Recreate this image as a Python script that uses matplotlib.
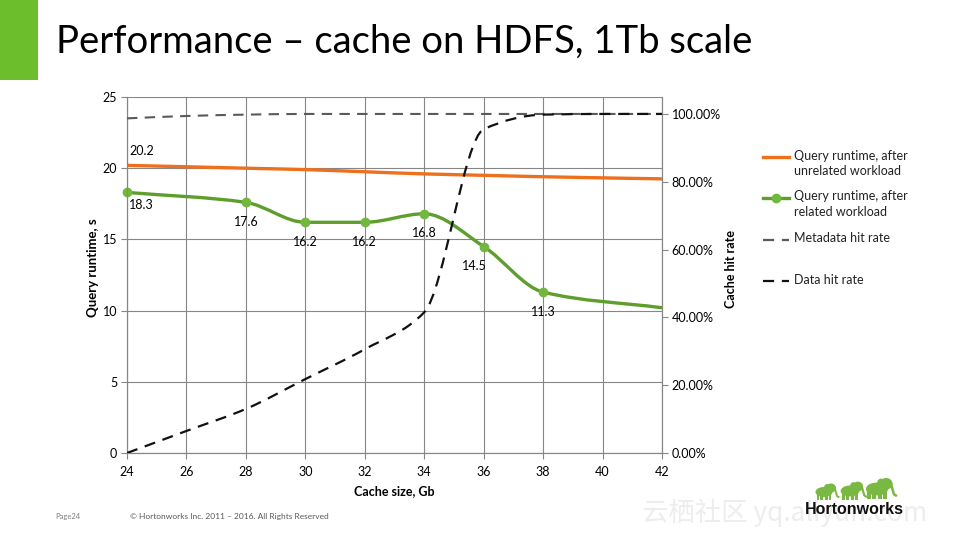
import numpy as np
import matplotlib.pyplot as plt
from matplotlib.path import Path
from matplotlib.patches import PathPatch, Rectangle, Ellipse
from matplotlib.ticker import PercentFormatter, MultipleLocator

plt.rcParams['font.family'] = ['Lato', 'DejaVu Sans']

# data
cache_gb = [24, 28, 30, 32, 34, 36, 38, 42]
runtime_unrelated = [20.2, 20.0, 19.9, 19.75, 19.6, 19.5, 19.4, 19.25]
runtime_related = [18.3, 17.6, 16.2, 16.2, 16.8, 14.5, 11.3, 10.2]
labelled_related = 7  # first 7 points carry markers and labels

hit_gb = [24, 26, 28, 30, 32, 34, 36, 38, 40, 42]
metadata_hit = [0.987, 0.994, 0.998, 1.0, 1.0, 1.0, 1.0, 1.0, 1.0, 1.0]
data_hit = [0.0, 0.065, 0.13, 0.218, 0.306, 0.415, 0.955, 0.998, 1.0, 1.0]

ORANGE = '#EE6F1C'
GREEN = '#5E9E2C'
GREEN_MK = '#72B73E'
GRAY = '#868686'


def smooth_path(x, y):
    # monotone cubic through the points, drawn as bezier segments
    x = np.asarray(x, float)
    y = np.asarray(y, float)
    h = np.diff(x)
    d = np.diff(y) / h
    m = np.zeros_like(y)
    m[0], m[-1] = d[0], d[-1]
    for k in range(1, len(x) - 1):
        if d[k - 1] * d[k] > 0:
            w1 = 2 * h[k] + h[k - 1]
            w2 = h[k] + 2 * h[k - 1]
            m[k] = (w1 + w2) / (w1 / d[k - 1] + w2 / d[k])
    verts = [(x[0], y[0])]
    codes = [Path.MOVETO]
    for k in range(len(h)):
        verts += [(x[k] + h[k] / 3, y[k] + m[k] * h[k] / 3),
                  (x[k + 1] - h[k] / 3, y[k + 1] - m[k + 1] * h[k] / 3),
                  (x[k + 1], y[k + 1])]
        codes += [Path.CURVE4] * 3
    return Path(verts, codes)


fig = plt.figure(figsize=(9.6, 5.4), dpi=100)

# overlay in pixel coordinates for slide decorations
deco = fig.add_axes([0, 0, 1, 1])
deco.set_xlim(0, 960)
deco.set_ylim(540, 0)
deco.axis('off')

deco.add_patch(Rectangle((0, 0), 38, 80, color='#6DBE2D', lw=0))
deco.text(56, 42, 'Performance \u2013 cache on HDFS, 1Tb scale', fontsize=27.5,
          va='center', ha='left', color='#000000')

ax = fig.add_axes([127 / 960, 87 / 540, 535 / 960, 356 / 540])
ax2 = ax.twinx()

ax.set_xlim(24, 42)
ax.set_ylim(0, 25)
ax2.set_ylim(0, 1.05)
ax.xaxis.set_major_locator(MultipleLocator(2))
ax.yaxis.set_major_locator(MultipleLocator(5))
ax2.set_yticks([0, 0.2, 0.4, 0.6, 0.8, 1.0])
ax2.yaxis.set_major_formatter(PercentFormatter(xmax=1, decimals=2))

ax.grid(True, color=GRAY, lw=0.8)
ax.set_axisbelow(True)
for a in (ax, ax2):
    a.spines['top'].set_visible(False)
    for s in ('left', 'right', 'bottom'):
        a.spines[s].set_color(GRAY)
        a.spines[s].set_linewidth(0.8)
    a.tick_params(direction='out', length=4, width=0.8, color=GRAY,
                  labelsize=9, pad=3)
ax.tick_params(axis='x', pad=5)

# runtime series
ax.add_patch(PathPatch(smooth_path(cache_gb, runtime_unrelated), fc='none',
                       ec=ORANGE, lw=2.4, capstyle='butt', zorder=3))
ax.add_patch(PathPatch(smooth_path(cache_gb, runtime_related), fc='none',
                       ec=GREEN, lw=2.4, capstyle='butt', zorder=3))
ax.plot(cache_gb[:labelled_related], runtime_related[:labelled_related], 'o',
        ms=6, color=GREEN_MK, mec=GREEN_MK, zorder=4, clip_on=False)

# hit-rate series
ax2.add_patch(PathPatch(smooth_path(hit_gb, metadata_hit), fc='none',
                        ec='#5A5A5A', lw=1.5, ls=(0, (5, 3.5)), zorder=3))
ax2.add_patch(PathPatch(smooth_path(hit_gb, data_hit), fc='none',
                        ec='#111111', lw=1.6, ls=(0, (5, 3.5)), zorder=3))

# data labels
label_offsets = [(10, -9), (0, -14), (0, -14), (0, -14), (0, -14), (-7, -14), (0, -14)]
for x, y, off in zip(cache_gb, runtime_related, label_offsets):
    ax.annotate(f'{y:.1f}', (x, y), xytext=off, textcoords='offset points',
                ha='center', va='center', fontsize=9)
ax.annotate(f'{runtime_unrelated[0]:.1f}', (cache_gb[0], runtime_unrelated[0]),
            xytext=(11, 10), textcoords='offset points', ha='center',
            va='center', fontsize=9)

# axis titles
deco.text(93, 268, 'Query runtime, s', rotation=90, ha='center', va='center',
          fontsize=9.5, fontweight='bold')
deco.text(731, 269, 'Cache hit rate', rotation=90, ha='center', va='center',
          fontsize=9, fontweight='bold')
deco.text(394, 491, 'Cache size, Gb', ha='center', va='center',
          fontsize=9, fontweight='bold')

# legend
legend_rows = [
    (157, ORANGE, '-', None, 'Query runtime, after\nunrelated workload'),
    (198, GREEN, '-', 'o', 'Query runtime, after\nrelated workload'),
    (240, '#5A5A5A', (0, (5, 3.5)), None, 'Metadata hit rate'),
    (281, '#111111', (0, (5, 3.5)), None, 'Data hit rate'),
]
for ly, col, ls, mk, txt in legend_rows:
    lw = 2.4 if ls == '-' else 1.6
    deco.plot([763, 789], [ly, ly], color=col, ls=ls, lw=lw)
    if mk:
        deco.plot([776], [ly], 'o', ms=6, color=GREEN_MK)
    deco.text(794, ly - 7.5, txt, ha='left', va='top', fontsize=9,
              color='#222222', linespacing=1.35)

# footer
deco.text(55, 516, 'Page24', fontsize=5.5, color='#7F7F7F', va='center')
deco.text(130, 516, '\u00a9 Hortonworks Inc. 2011 \u2013 2016. All Rights Reserved',
          fontsize=6, color='#595959', va='center')
deco.text(785, 513, '云栖社区 yq.aliyun.com', fontsize=19, color='#EDEDED',
          va='center', ha='center', family=['Noto Sans CJK SC', 'DejaVu Sans'])

# logo
ELE = '#79B843'
for cx, cy, s in [(824, 492, 1.0), (850, 491, 1.1), (877, 489, 1.3)]:
    deco.add_patch(Ellipse((cx, cy), 17 * s, 10 * s, color=ELE, lw=0))
    deco.add_patch(Ellipse((cx + 7 * s, cy - 4 * s), 10 * s, 9 * s, color=ELE, lw=0))
    deco.add_patch(Ellipse((cx + 3 * s, cy - 4 * s), 6 * s, 8 * s, color=ELE, lw=0))
    deco.plot([cx + 11 * s, cx + 13 * s, cx + 14.5 * s],
              [cy - 3 * s, cy + 4 * s, cy + 5 * s], color=ELE, lw=1.4 * s)
    for lx in (-6, -2.5, 2.5, 6):
        deco.add_patch(Rectangle((cx + lx * s - 1.4 * s, cy + 2 * s), 2.8 * s,
                                 6 * s, color=ELE, lw=0))
deco.text(854, 510, 'Hortonworks', fontsize=11.5, fontweight='bold',
          color='#111111', ha='center', va='center', family='Liberation Sans')

fig.savefig('out.png', dpi=100)
